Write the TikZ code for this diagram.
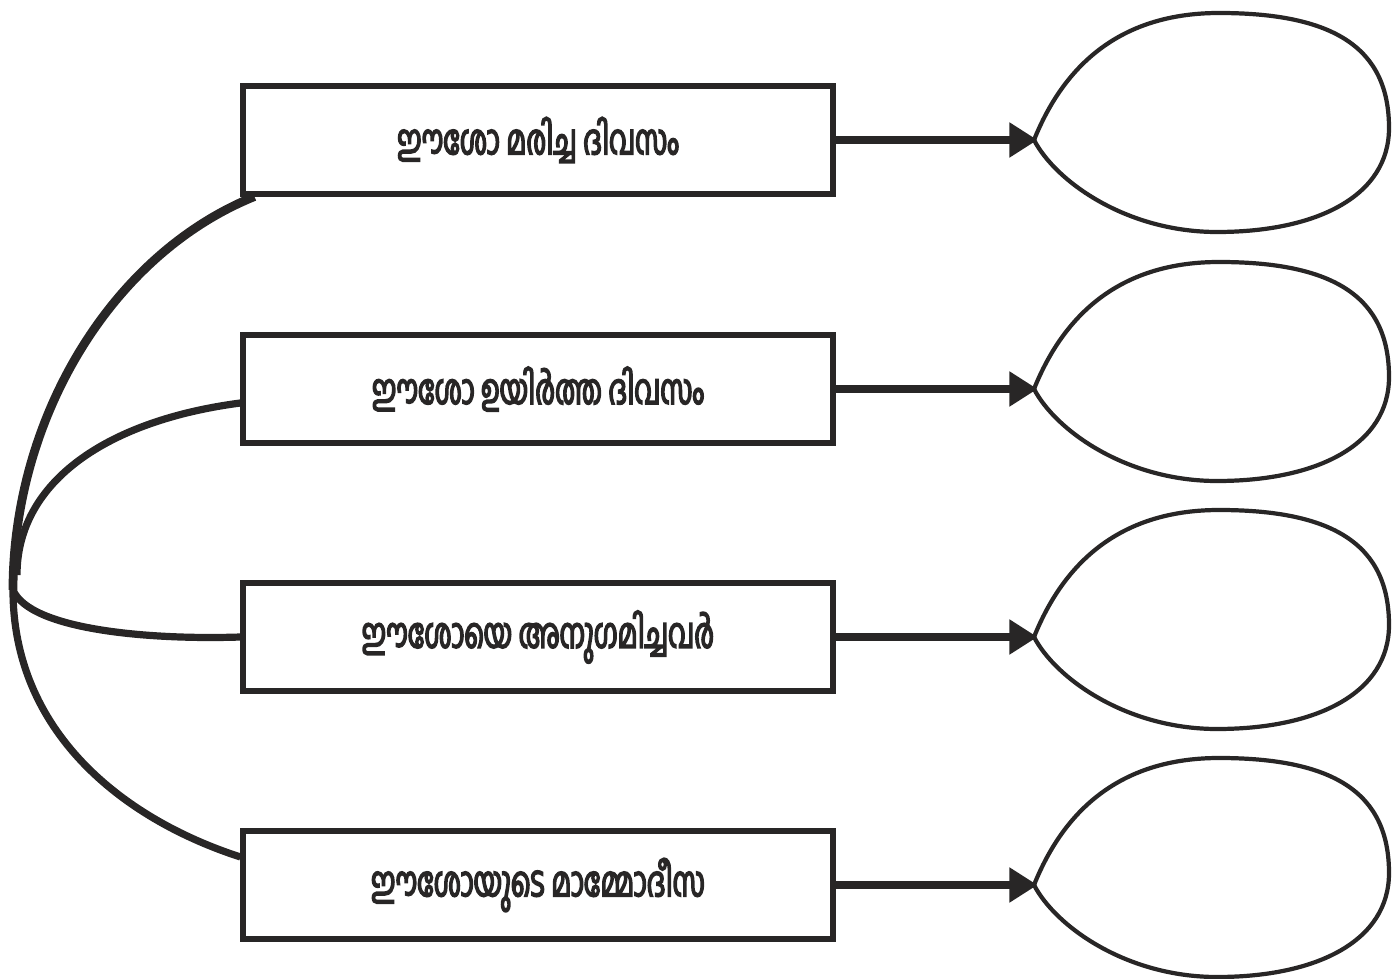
\documentclass[tikz,border=0pt]{standalone}
\usepackage{fontspec}
\newfontfamily\malfont[Script=Malayalam,FakeStretch=0.63,AutoFakeBold=3.5]{Hind Kochi}
\usepackage{tikz}
\usetikzlibrary{arrows.meta}
\definecolor{ink}{RGB}{40,38,38}

\begin{document}
\begin{tikzpicture}[x=0.02cm,y=-0.02cm,
    box/.style={draw=ink,line width=2.9pt,minimum width=590*0.02cm,minimum height=108*0.02cm,inner sep=0pt,
                font=\malfont\bfseries\fontsize{24}{28}\selectfont,text=ink},
    pointer/.style={draw=ink,line width=4pt,-{Triangle[length=16pt,width=19pt]},shorten >=-2pt},
    egg/.style={draw=ink,line width=2.4pt},
    branch/.style={draw=ink,line width=4.1pt}]
                   % Sizes
                   \pgfmathsetmacro{\boxx}{538}
                   \pgfmathsetmacro{\tipx}{1034}
                   % page
                   \useasboundingbox (0,0) rectangle (1400,979);
                   % boxes
                   \node[box] (b1) at (\boxx, 140) {ഈശോ മരിച്ച ദിവസം};
                   \node[box] (b2) at (\boxx, 389) {ഈശോ ഉയിർത്ത ദിവസം};
                   \node[box] (b3) at (\boxx, 637) {ഈശോയെ അനുഗമിച്ചവർ};
                   \node[box] (b4) at (\boxx, 885) {ഈശോയുടെ മാമ്മോദീസ};
                   % egg tips
                   \coordinate (e1) at (\tipx, 140);
                   \coordinate (e2) at (\tipx, 389);
                   \coordinate (e3) at (\tipx, 637);
                   \coordinate (e4) at (\tipx, 885);
                   \coordinate (root) at (13, 590);

                   % eggs
                   \foreach \e in {e1,e2,e3,e4} {
                     \draw[egg] (\e) .. controls +(25,-62) and +(-110,0) .. ++(185,-127)
                                     .. controls +(115,0) and +(0,-80) .. ++(170,115)
                                     .. controls +(0,68) and +(100,0) .. ++(-172,104)
                                     .. controls +(-90,0) and +(22,42) .. cycle;
                   }
                   % arrows
                   \draw[pointer] (b1.east) -- (e1);
                   \draw[pointer] (b2.east) -- (e2);
                   \draw[pointer] (b3.east) -- (e3);
                   \draw[pointer] (b4.east) -- (e4);

                   % branches
                   \draw[branch,line width=5pt] (b1.south west) ++(14,0) coordinate (t1)
                        .. controls (110,255) and (13,420) .. (root);
                   \draw[branch] (b2.west) ++(0,14) coordinate (t2)
                        .. controls (110,420) and (17,480) .. (17,575);
                   \draw[branch] (root) .. controls (30,630) and (150,640) .. (b3.west);
                   \draw[branch] (root) .. controls (13,730) and (120,818) .. ([yshift=28*0.02cm]b4.west);
\end{tikzpicture}
\end{document}
